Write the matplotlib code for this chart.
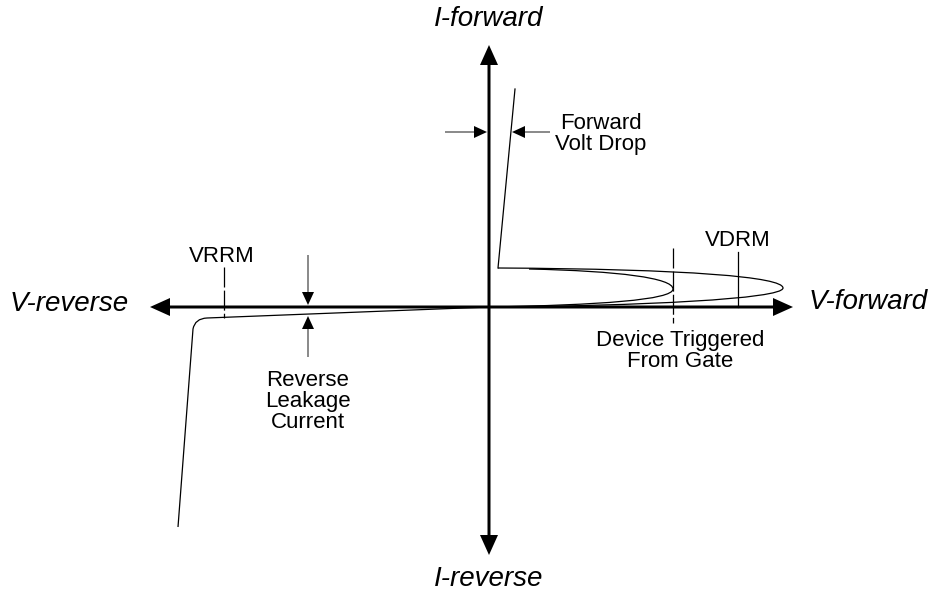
import matplotlib
matplotlib.use("Agg")
import matplotlib.pyplot as plt
from matplotlib.path import Path
from matplotlib.patches import PathPatch

plt.rcParams['font.family'] = ['Liberation Sans', 'DejaVu Sans']

# ---- data (units: V right, I up; origin at axis crossing) ----
# forward on-state line
fwd_v = [9, 26]
fwd_i = [39, 218]
# outer loop (forward blocking up to VDRM and snap back), cubic Bezier control points
outer_v = [0, 150, 294, 294, 294, 200, 9]
outer_i = [0, 1, 8, 19, 30, 38, 39]
# inner loop (gate triggered), cubic Bezier control points
inner_v = [0, 110, 184, 184, 184, 130, 40]
inner_i = [0, 2, 7, 18, 29, 36, 38]
# reverse characteristic: leakage line, rounded knee, avalanche
rev_v = [0, -282, -294, -296, -311]
rev_i = [0, -11, -11.5, -22, -220]

# marker lines
vrrm_v, vrrm_i = [-265, -265], [40, -11]
gate_v, gate_i = [184, 184], [59, -16]
vdrm_v, vdrm_i = [249, 249], [55, 0]

# axis extents
h_axis = (-339, 304)
v_axis = (262, -248)

fig = plt.figure(figsize=(9.35, 5.93), dpi=100)
ax = fig.add_axes([0, 0, 1, 1])
ax.set_xlim(-489, 446)
ax.set_ylim(-286, 307)
ax.axis('off')

# axes arrows
akw = dict(width=3, head_width=18, head_length=20, length_includes_head=True,
           color='black', lw=0)
ax.arrow(0, 0, h_axis[0], 0, **akw)
ax.arrow(0, 0, h_axis[1], 0, **akw)
ax.arrow(0, 0, 0, v_axis[0], **akw)
ax.arrow(0, 0, 0, v_axis[1], **akw)

# curves
ax.plot(fwd_v, fwd_i, color='black', lw=0.9)
codes4 = [Path.MOVETO] + [Path.CURVE4] * 6
ax.add_patch(PathPatch(Path(list(zip(outer_v, outer_i)), codes4),
                       fill=False, lw=0.9, ec='black'))
ax.add_patch(PathPatch(Path(list(zip(inner_v, inner_i)), codes4),
                       fill=False, lw=0.9, ec='black'))
rev_codes = [Path.MOVETO, Path.LINETO, Path.CURVE3, Path.CURVE3, Path.LINETO]
ax.add_patch(PathPatch(Path(list(zip(rev_v, rev_i)), rev_codes),
                       fill=False, lw=0.9, ec='black'))

# marker lines
ax.plot(vrrm_v, vrrm_i, color='black', lw=0.9, dashes=(16, 2.5))
ax.plot(gate_v, gate_i, color='black', lw=0.9, dashes=(16, 2.5))
ax.plot(vdrm_v, vdrm_i, color='black', lw=0.9)

# annotation arrows
skw = dict(width=0.9, head_width=12, head_length=13, length_includes_head=True,
           color='black', lw=0)
ax.arrow(-44, 175, 42, 0, **skw)
ax.arrow(61, 175, -38, 0, **skw)
ax.arrow(-181, 52, 0, -50, **skw)
ax.arrow(-181, -50, 0, 41, **skw)

# texts
big = dict(fontsize=20, style='italic')
ax.text(0, 281, 'I-forward', ha='center', va='baseline', **big)
ax.text(0, -279, 'I-reverse', ha='center', va='baseline', **big)
ax.text(320, -2, 'V-forward', ha='left', va='baseline', **big)
ax.text(-360, -4, 'V-reverse', ha='right', va='baseline', **big)

sm = dict(fontsize=16, linespacing=1.0)
ax.text(112, 173, 'Forward\nVolt Drop', ha='center', va='center', **sm)
ax.text(-181, -94, 'Reverse\nLeakage\nCurrent', ha='center', va='center', **sm)
ax.text(-267, 45, 'VRRM', ha='center', va='baseline', **sm)
ax.text(249, 61, 'VDRM', ha='center', va='baseline', **sm)
ax.text(191, -44, 'Device Triggered\nFrom Gate', ha='center', va='center', **sm)

fig.savefig('out.png', dpi=100)
